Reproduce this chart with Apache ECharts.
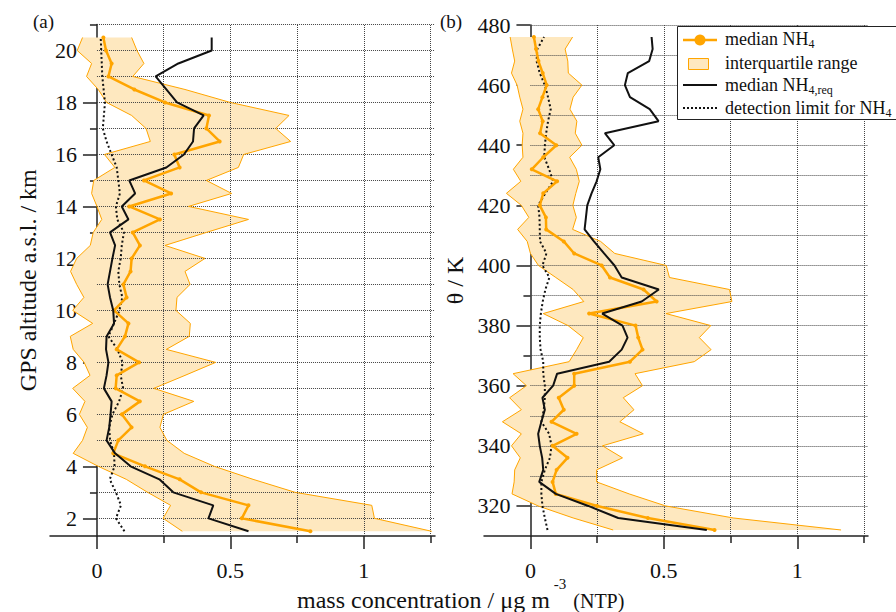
<!DOCTYPE html>
<html>
<head>
<meta charset="utf-8">
<script src="https://cdn.jsdelivr.net/npm/echarts@6/dist/echarts.min.js"></script>
<style>
html,body{margin:0;padding:0;background:#fff;}
#c{width:896px;height:612px;}
</style>
</head>
<body>
<div id="c"></div>
<script>
// ---------- data: panel (a), GPS altitude (km) ----------
const altitudes = [1.5,2,2.5,3,3.5,4,4.5,5,5.5,6,6.5,7,7.5,8,8.5,9,9.5,10,10.5,11,11.5,12,12.5,13,13.5,14,14.5,15,15.5,16,16.5,17,17.5,18,18.5,19,19.5,20,20.5];
const altMedian = [0.80,0.543,0.568,0.39,0.31,0.18,0.061,0.08,0.13,0.093,0.161,0.07,0.074,0.158,0.074,0.105,0.118,0.064,0.111,0.099,0.126,0.13,0.161,0.134,0.236,0.121,0.278,0.176,0.31,0.29,0.46,0.41,0.42,0.255,0.14,0.043,0.055,0.034,0.024];
const altQ25 = [0.32,0.248,0.276,0.19,0.11,0.005,-0.089,-0.054,-0.036,-0.066,-0.045,-0.091,-0.026,-0.048,-0.089,-0.1,-0.016,-0.091,-0.049,-0.076,-0.099,-0.076,-0.025,-0.014,0.018,0,-0.02,-0.012,0.067,0.028,0.2,0.184,0.13,0.036,0.005,-0.039,-0.02,-0.074,-0.054];
const altQ75 = [1.255,1.04,1.03,0.743,0.585,0.44,0.327,0.262,0.236,0.249,0.363,0.213,0.33,0.445,0.26,0.346,0.35,0.296,0.30,0.349,0.33,0.405,0.255,0.41,0.568,0.343,0.505,0.41,0.53,0.55,0.726,0.67,0.72,0.50,0.33,0.134,0.176,0.15,0.13];
const altReq = [0.568,0.418,0.436,0.286,0.234,0.126,0.068,0.036,0.046,0.051,0.055,0.026,0.036,0.043,0.034,0.036,0.064,0.061,0.049,0.04,0.049,0.058,0.068,0.049,0.118,0.093,0.143,0.121,0.26,0.326,0.36,0.364,0.40,0.30,0.26,0.22,0.305,0.43,0.43];
const altDetLimit = [0.103,0.071,0.09,0.071,0.048,0.066,0.064,0.049,0.046,0.058,0.083,0.098,0.089,0.096,0.077,0.043,0.064,0.084,0.095,0.084,0.08,0.089,0.093,0.101,0.076,0.071,0.086,0.08,0.074,0.055,0.036,0.022,0.026,0.03,0.025,0.02,0.018,0.016,0.014];

// ---------- data: panel (b), potential temperature (K) ----------
const thetas = [312,316,320,324,328,332,336,340,344,348,352,356,360,364,368,372,376,380,384,388,392,396,400,404,408,412,416,420,424,428,432,436,440,444,448,452,456,460,464,468,472,476];
const thetaMedian = [0.69,0.44,0.25,0.095,0.083,0.098,0.139,0.083,0.173,0.079,0.125,0.106,0.164,0.164,0.373,0.42,0.404,0.394,0.22,0.473,0.424,0.298,0.267,0.164,0.125,0.059,0.058,0.035,0.048,0.1,0.005,0.048,0.097,0.036,0.046,0.029,0.045,0.061,0.046,0.03,0.021,0.013];
const thetaQ25 = [0.31,0.16,0.029,-0.069,-0.061,-0.059,-0.038,-0.071,-0.034,-0.105,-0.034,-0.078,-0.015,-0.065,0.145,0.173,0.198,0.141,0.048,0.2,0.16,0.095,0.03,0.0,-0.012,-0.048,-0.006,-0.034,-0.09,-0.036,-0.064,-0.028,-0.031,-0.028,-0.04,-0.028,-0.04,-0.05,-0.071,-0.059,-0.068,-0.076];
const thetaQ75 = [1.164,0.76,0.507,0.37,0.248,0.248,0.345,0.27,0.423,0.335,0.388,0.348,0.42,0.392,0.614,0.677,0.633,0.676,0.508,0.755,0.746,0.521,0.509,0.316,0.263,0.158,0.172,0.159,0.17,0.183,0.172,0.147,0.193,0.168,0.174,0.148,0.16,0.193,0.142,0.14,0.13,0.158];
const thetaReq = [0.661,0.329,0.217,0.095,0.033,0.048,0.044,0.035,0.029,0.041,0.054,0.045,0.085,0.1,0.295,0.342,0.364,0.345,0.269,0.417,0.481,0.342,0.315,0.276,0.238,0.203,0.208,0.213,0.229,0.248,0.262,0.254,0.314,0.279,0.48,0.447,0.373,0.354,0.365,0.445,0.458,0.454];
const thetaDetLimit = [0.064,0.054,0.045,0.041,0.041,0.054,0.073,0.079,0.07,0.041,0.05,0.054,0.054,0.048,0.048,0.038,0.035,0.035,0.039,0.046,0.056,0.071,0.045,0.06,0.036,0.035,0.034,0.029,0.056,0.085,0.07,0.052,0.054,0.059,0.066,0.076,0.066,0.054,0.035,0.023,0.026,0.051];

// ---------- ticks ----------
const xMajorTicks = [0,0.5,1];
const xMinorTicks = [0.25,0.75,1.25];
const xGridLines = [0.25,0.5,0.75,1,1.25];
const altMajorTicks = [2,4,6,8,10,12,14,16,18,20];
const altMinorTicks = [3,5,7,9,11,13,15,17,19,21];
const altGridLines = [2,3,4,5,6,7,8,9,10,11,12,13,14,15,16,17,18,19,20,21];
const thetaMajorTicks = [320,340,360,380,400,420,440,460,480];
const thetaMinorTicks = [330,350,370,390,410,430,450,470];
const thetaGridLines = [320,330,340,350,360,370,380,390,400,410,420,430,440,450,460,470,480];

// ---------- legend labels ----------
const legendMain = ['median NH', 'interquartile range', 'median NH', 'detection limit for NH'];
const legendSub = ['4', '', '4,req', '4'];

const FONT = "'Liberation Serif','DejaVu Serif',serif";
const ORANGE = '#FFA500';
const FILL = '#FEE8BF';
const AX = '#222';
const W = 896, H = 612;

const grids = [
  {left:50, right:461, top:24.5, bottom:76},
  {left:484, right:28, top:25, bottom:76}
];

const panels = [
  {xmin:-0.176, xmax:1.267, ymin:1.32, ymax:21, levels:altitudes, med:altMedian, q25:altQ25, q75:altQ75, req:altReq, dl:altDetLimit,
   major:altMajorTicks, minor:altMinorTicks, hlines:altGridLines, name:'GPS altitude a.s.l. / km', nameGap:57},
  {xmin:-0.174, xmax:1.265, ymin:310, ymax:480, levels:thetas, med:thetaMedian, q25:thetaQ25, q75:thetaQ75, req:thetaReq, dl:thetaDetLimit,
   major:thetaMajorTicks, minor:thetaMinorTicks, hlines:thetaGridLines, name:'θ / K', nameGap:63}
];

function pairs(xs, ys){ return xs.map((x,i)=>[x, ys[i]]); }

const xAxis = [], yAxis = [], series = [];
panels.forEach((p, g) => {
  const xi = g*2, yi = g*2;
  const gw = W - grids[g].left - grids[g].right;
  // place the y axis line where x = 0 (offset inward from grid left edge)
  const yOffset = -((0 - p.xmin) / (p.xmax - p.xmin)) * gw;
  xAxis.push({
    gridIndex:g, type:'value', min:p.xmin, max:p.xmax, position:'bottom',
    axisLine:{show:true, onZero:false, lineStyle:{color:AX, width:1.5}},
    axisTick:{show:true, length:13, customValues:xMajorTicks, lineStyle:{color:AX, width:1.5}},
    axisLabel:{show:true, customValues:xMajorTicks, margin:23, fontSize:22, fontFamily:FONT, color:'#111'},
    splitLine:{show:false}
  });
  xAxis.push({
    gridIndex:g, type:'value', min:p.xmin, max:p.xmax, position:'bottom',
    axisLine:{show:false, onZero:false},
    axisTick:{show:true, length:7, customValues:xMinorTicks, lineStyle:{color:AX, width:1.5}},
    axisLabel:{show:false}, splitLine:{show:false}
  });
  yAxis.push({
    gridIndex:g, type:'value', min:p.ymin, max:p.ymax, position:'left', offset:yOffset,
    axisLine:{show:true, onZero:false, lineStyle:{color:AX, width:1.5}},
    axisTick:{show:true, length:14, customValues:p.major, lineStyle:{color:AX, width:1.5}},
    axisLabel:{show:true, customValues:p.major, margin:20, fontSize:22, fontFamily:FONT, color:'#111'},
    splitLine:{show:false},
    name:p.name, nameLocation:'middle', nameGap:p.nameGap,
    nameTextStyle:{fontSize:24, fontFamily:FONT, color:'#111'}
  });
  yAxis.push({
    gridIndex:g, type:'value', min:p.ymin, max:p.ymax, position:'left', offset:yOffset,
    axisLine:{show:false, onZero:false},
    axisTick:{show:true, length:7, customValues:p.minor, lineStyle:{color:AX, width:1.5}},
    axisLabel:{show:false}, splitLine:{show:false}
  });

  // interquartile fill
  series.push({
    type:'custom', xAxisIndex:xi, yAxisIndex:yi, z:1, silent:true, clip:false,
    data:[[p.q25[0], p.levels[0]]],
    encode:{x:0, y:1},
    renderItem:function(params, api){
      const pts = [];
      for (let i=0;i<p.levels.length;i++) pts.push(api.coord([p.q25[i], p.levels[i]]));
      for (let i=p.levels.length-1;i>=0;i--) pts.push(api.coord([p.q75[i], p.levels[i]]));
      return {type:'polygon', shape:{points:pts}, style:{fill:FILL, stroke:null}};
    }
  });
  const hl = p.hlines.map(v => [{coord:[0, v]}, {coord:[p.xmax, v]}]);
  const vl = xGridLines.map(v => ({xAxis:v}));
  series.push({
    type:'line', xAxisIndex:xi, yAxisIndex:yi, z:3, silent:true, showSymbol:false,
    data:pairs(p.q25, p.levels), lineStyle:{color:ORANGE, width:1},
    markLine:{silent:true, z:2, symbol:['none','none'], label:{show:false}, animation:false,
      lineStyle:{color:'#444', type:[1,1], width:1}, emphasis:{disabled:true}, data: hl.concat(vl)}
  });
  series.push({
    type:'line', xAxisIndex:xi, yAxisIndex:yi, z:3, silent:true, showSymbol:false,
    data:pairs(p.q75, p.levels), lineStyle:{color:ORANGE, width:1}
  });
  series.push({
    type:'line', xAxisIndex:xi, yAxisIndex:yi, z:4, silent:true, showSymbol:false,
    data:pairs(p.dl, p.levels), lineStyle:{color:'#111', width:2, type:[2,2.5]}
  });
  series.push({
    type:'line', xAxisIndex:xi, yAxisIndex:yi, z:5, silent:true, symbol:'circle', symbolSize:4, showSymbol:true,
    data:pairs(p.med, p.levels), lineStyle:{color:ORANGE, width:2.5}, itemStyle:{color:ORANGE}
  });
  series.push({
    type:'line', xAxisIndex:xi, yAxisIndex:yi, z:6, silent:true, showSymbol:false,
    data:pairs(p.req, p.levels), lineStyle:{color:'#111', width:2}
  });
});

// text measuring for chained pieces
const mctx = document.createElement('canvas').getContext('2d');
function textW(str, size){ mctx.font = size + "px 'Liberation Serif'"; return mctx.measureText(str).width; }
function txt(str, x, y, size, z){
  return {type:'text', x:x, y:y, z:z||100, silent:true,
    style:{text:str, font:size + "px 'Liberation Serif', serif", fill:'#111',
           textAlign:'left', align:'left', textVerticalAlign:'middle', verticalAlign:'middle'}};
}

const legendRowsY = [39, 62.5, 84.6, 108];
const legendEls = [];
legendMain.forEach((m, i) => {
  legendEls.push(txt(m, 725, legendRowsY[i], 18));
  if (legendSub[i]) legendEls.push(txt(legendSub[i], 725 + textW(m, 18), legendRowsY[i] + 5, 12));
});

const titleMain = 'mass concentration / μg m';
const tx0 = 297;
const wMain = textW(titleMain, 24);
const wSup = textW('-3', 15);

const option = {
  animation:false,
  backgroundColor:'#fff',
  grid: grids.map(gr => Object.assign({containLabel:false, outerBoundsMode:'none'}, gr)),
  xAxis:xAxis, yAxis:yAxis, series:series,
  graphic:[
    txt('(a)', 33, 21, 19),
    txt('(b)', 440, 21, 19),
    txt(titleMain, tx0, 600, 24),
    txt('-3', tx0 + wMain + 4, 584, 15),
    txt('(NTP)', tx0 + wMain + 4 + wSup + 7, 601, 20),
    // legend box and keys
    {type:'rect', z:90, silent:true, shape:{x:677.5, y:26.5, width:240, height:93}, style:{fill:'#fff', stroke:'#222', lineWidth:1}},
    {type:'line', z:100, silent:true, shape:{x1:683, y1:40, x2:717, y2:40}, style:{stroke:ORANGE, lineWidth:2.5}},
    {type:'circle', z:100, silent:true, shape:{cx:700, cy:40, r:5.5}, style:{fill:ORANGE}},
    {type:'rect', z:100, silent:true, shape:{x:688.5, y:58.5, width:20, height:11}, style:{fill:FILL, stroke:ORANGE, lineWidth:1}},
    {type:'line', z:100, silent:true, shape:{x1:683, y1:85, x2:717, y2:85}, style:{stroke:'#111', lineWidth:2}},
    {type:'line', z:100, silent:true, shape:{x1:683, y1:108, x2:717, y2:108}, style:{stroke:'#111', lineWidth:2, lineDash:[2,2]}}
  ].concat(legendEls)
};

const chart = echarts.init(document.getElementById('c'), null, {renderer:'svg', width:W, height:H});
chart.setOption(option);
</script>
</body>
</html>
